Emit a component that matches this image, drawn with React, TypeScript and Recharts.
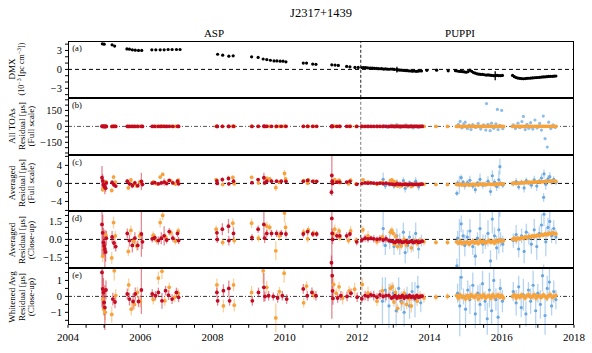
import React from "react";
import { ScatterChart, Scatter, XAxis, YAxis, ErrorBar, ReferenceLine } from "recharts";

// [year, value, error]
type Pt = [number, number, number];

const dmx: Pt[] = [
  [2004.95, 4.05, 0.08], [2005.0, 4.0, 0.08], [2005.22, 3.9, 0.06], [2005.29, 3.7, 0.06],
  [2005.63, 3.25, 0.05], [2005.7, 3.2, 0.05], [2005.78, 3.1, 0.05], [2005.86, 3.05, 0.05], [2005.95, 3.0, 0.05], [2006.04, 3.0, 0.05],
  [2006.32, 3.1, 0.05], [2006.43, 3.1, 0.05], [2006.55, 3.1, 0.05], [2006.66, 3.1, 0.05], [2006.77, 3.15, 0.05], [2006.88, 3.15, 0.05], [2007.0, 3.15, 0.05], [2007.1, 3.15, 0.05],
  [2008.14, 2.4, 0.05], [2008.28, 2.25, 0.05], [2008.45, 2.1, 0.05], [2008.57, 2.15, 0.05],
  [2009.08, 2.0, 0.05], [2009.26, 1.9, 0.05], [2009.4, 1.65, 0.05], [2009.5, 1.55, 0.05], [2009.6, 1.45, 0.05], [2009.7, 1.35, 0.05], [2009.78, 1.35, 0.05], [2009.87, 1.3, 0.05], [2009.95, 1.3, 0.05], [2010.03, 1.2, 0.05],
  [2010.51, 1.0, 0.05], [2010.6, 1.0, 0.05], [2010.77, 0.85, 0.05], [2010.86, 0.8, 0.05],
  [2011.3, 0.73, 0.05], [2011.39, 0.68, 0.05], [2011.48, 0.63, 0.05], [2011.71, 0.47, 0.05], [2011.8, 0.41, 0.05], [2011.94, 0.32, 0.05], [2012.03, 0.32, 0.05],
  [2012.13, 0.3, 0.05], [2012.18, 0.3, 0.05], [2012.23, 0.28, 0.05], [2012.28, 0.25, 0.05], [2012.33, 0.22, 0.05], [2012.38, 0.2, 0.05], [2012.43, 0.2, 0.05], [2012.48, 0.15, 0.05],
  [2012.53, 0.16, 0.05], [2012.58, 0.12, 0.05], [2012.63, 0.1, 0.05], [2012.68, 0.12, 0.05], [2012.73, 0.05, 0.05], [2012.78, 0.08, 0.05], [2012.83, 0.05, 0.05], [2012.88, 0.02, 0.05],
  [2012.93, 0.06, 0.05], [2012.98, 0.05, 0.05], [2013.03, 0.0, 0.05], [2013.1, -0.05, 0.45], [2013.13, -0.08, 0.05], [2013.18, -0.1, 0.05], [2013.23, -0.12, 0.05], [2013.28, -0.15, 0.05],
  [2013.33, -0.18, 0.05], [2013.38, -0.2, 0.05], [2013.43, -0.22, 0.05], [2013.48, -0.25, 0.05], [2013.53, -0.28, 0.05], [2013.58, -0.25, 0.05], [2013.63, -0.3, 0.05], [2013.68, -0.28, 0.05],
  [2013.73, -0.22, 0.05], [2013.78, -0.25, 0.05], [2013.93, -0.15, 0.05], [2014.2, -0.12, 0.05], [2014.52, -0.22, 0.05],
  [2014.72, -0.2, 0.05], [2014.77, -0.25, 0.05], [2014.82, -0.3, 0.05], [2014.87, -0.32, 0.05], [2014.92, -0.35, 0.05], [2014.97, -0.4, 0.05], [2015.02, -0.45, 0.05], [2015.07, -0.35, 0.05],
  [2015.12, -0.12, 0.05], [2015.17, -0.3, 0.05], [2015.22, -0.5, 0.05], [2015.27, -0.6, 0.05], [2015.32, -0.7, 0.05], [2015.37, -0.75, 0.05], [2015.42, -0.78, 0.05], [2015.47, -0.8, 0.05],
  [2015.52, -0.85, 0.05], [2015.57, -0.9, 0.05], [2015.62, -0.88, 0.05], [2015.67, -0.92, 0.05], [2015.72, -0.95, 0.05], [2015.77, -0.98, 0.05], [2015.82, -1.0, 0.7], [2015.87, -0.95, 0.05],
  [2015.92, -0.98, 0.05], [2015.97, -1.0, 0.05], [2016.02, -0.95, 0.05],
  [2016.3, -0.95, 0.05], [2016.35, -1.15, 0.05], [2016.4, -1.3, 0.05], [2016.45, -1.38, 0.05], [2016.5, -1.42, 0.05], [2016.55, -1.45, 0.05], [2016.6, -1.48, 0.05], [2016.65, -1.45, 0.05],
  [2016.7, -1.42, 0.05], [2016.75, -1.4, 0.05], [2016.8, -1.38, 0.05], [2016.85, -1.35, 0.05], [2016.9, -1.32, 0.05], [2016.95, -1.3, 0.05], [2017.0, -1.28, 0.05], [2017.05, -1.25, 0.05],
  [2017.1, -1.22, 0.05], [2017.15, -1.2, 0.05], [2017.2, -1.18, 0.05], [2017.25, -1.15, 0.05], [2017.3, -1.12, 0.05], [2017.35, -1.1, 0.05], [2017.4, -1.1, 0.05], [2017.45, -1.08, 0.05], [2017.5, -1.05, 0.05],
];

// averaged residuals (us), used for full-scale and close-up panels
const redAvg: Pt[] = [
  [2004.94, 1.25, 2.6], [2004.96, 0.55, 1.5], [2004.98, -0.25, 1.2], [2005.0, -0.55, 0.9], [2005.02, -0.8, 1.6], [2005.04, -1.05, 0.8], [2005.06, 0.1, 0.6],
  [2005.22, 0.2, 0.5], [2005.27, -0.3, 0.5], [2005.32, -0.6, 0.4],
  [2005.64, 0.5, 0.4], [2005.7, -0.1, 0.5], [2005.78, -0.5, 0.6], [2005.85, 0.1, 0.5], [2005.93, -0.5, 0.4], [2006.03, 0.45, 1.9], [2006.06, -0.2, 0.6],
  [2006.33, 0.05, 0.3], [2006.4, 0.15, 0.3], [2006.5, -0.1, 0.35], [2006.58, 0.1, 0.5], [2006.66, 0.3, 0.8], [2006.73, -0.05, 0.3], [2006.8, 0.65, 0.3], [2006.9, 0.1, 0.3], [2007.03, 0.5, 0.3], [2007.06, -0.1, 0.3],
  [2008.12, 0.55, 0.35], [2008.13, 0.0, 0.3], [2008.27, 0.85, 0.5], [2008.44, 1.1, 0.6], [2008.45, -0.1, 0.4], [2008.58, 0.5, 0.5],
  [2009.09, 0.15, 0.3], [2009.26, 0.85, 0.3], [2009.42, 1.25, 1.1], [2009.44, 0.1, 0.4], [2009.5, 0.5, 0.3], [2009.63, 0.5, 0.3], [2009.77, 0.5, 0.3], [2009.9, 0.5, 0.3], [2010.03, 0.45, 0.3],
  [2010.51, 0.45, 0.3], [2010.63, 0.65, 0.3], [2010.77, 0.45, 0.25], [2010.88, 0.45, 0.25],
  [2011.3, 1.75, 4.5], [2011.31, 0.5, 0.4], [2011.32, 0.0, 0.4], [2011.29, -1.95, 0.6], [2011.44, 0.3, 0.3], [2011.52, 0.3, 0.3], [2011.71, 0.3, 0.3], [2011.8, 0.45, 0.3], [2011.99, -0.2, 0.3],
  [2012.13, -0.05, 0.25], [2012.22, 0.1, 0.3], [2012.3, 0.05, 0.3], [2012.38, 0.1, 0.2], [2012.46, 0.05, 0.3], [2012.55, 0.0, 0.25], [2012.63, 0.05, 0.3], [2012.72, -0.05, 0.2],
  [2012.8, 0.05, 0.3], [2012.88, -0.1, 0.2], [2012.95, -0.15, 0.15], [2013.0, -0.2, 0.15], [2013.05, -0.25, 0.15], [2013.1, -0.1, 0.15], [2013.15, -0.2, 0.15], [2013.2, -0.15, 0.15],
  [2013.25, -0.25, 0.15], [2013.3, -0.2, 0.15], [2013.35, -0.15, 0.15], [2013.4, -0.25, 0.15], [2013.45, -0.2, 0.15], [2013.5, -0.15, 0.15], [2013.55, -0.25, 0.15], [2013.6, -0.2, 0.15],
  [2013.65, -0.15, 0.15], [2013.7, -0.25, 0.15], [2013.75, -0.2, 0.15], [2013.8, -0.15, 0.15],
];

const orangeAvg: Pt[] = [
  [2004.96, -1.4, 0.5], [2004.99, -0.7, 0.4], [2005.05, 0.35, 0.4],
  [2005.21, -1.55, 0.5], [2005.26, 1.4, 0.5], [2005.31, 0.3, 0.4],
  [2005.67, -1.0, 0.4], [2005.74, 0.75, 0.4], [2005.82, -0.15, 0.3], [2005.9, -0.55, 0.4], [2005.98, 0.3, 0.4],
  [2006.36, 0.35, 0.3], [2006.45, -0.1, 0.3], [2006.55, 1.4, 0.4], [2006.62, 2.0, 0.4], [2006.7, 0.2, 0.3], [2006.85, 0.55, 0.3], [2006.97, -0.15, 0.3], [2007.05, 0.7, 0.3],
  [2008.1, 0.85, 0.3], [2008.28, -0.25, 0.3], [2008.56, 1.35, 0.4], [2008.6, -0.1, 0.3],
  [2009.08, 1.35, 0.4], [2009.27, 0.1, 0.3], [2009.5, 1.1, 0.4], [2009.58, 1.0, 0.3], [2009.75, -0.95, 0.8], [2009.85, 0.3, 0.4], [2009.99, 2.2, 0.8], [2010.02, 1.0, 0.4],
  [2010.52, 0.6, 0.3], [2010.63, 0.05, 0.3], [2010.65, 0.8, 0.3], [2010.8, 0.5, 0.3],
  [2011.35, 0.45, 0.4], [2011.38, 0.85, 0.4], [2011.5, 0.7, 0.3], [2011.52, 0.15, 0.3], [2011.76, -0.1, 0.3], [2011.82, 0.7, 0.4], [2011.97, -0.1, 0.3], [2012.16, 0.8, 0.3],
  [2012.3, 0.3, 0.4], [2012.55, -0.2, 0.3], [2012.7, 0.2, 0.3], [2012.92, 0.6, 0.3], [2012.96, 0.75, 0.3], [2013.0, 0.5, 0.25], [2013.03, -0.4, 0.3], [2013.07, 0.25, 0.3],
  [2013.12, -0.6, 0.3], [2013.17, -0.2, 0.3], [2013.22, -0.55, 0.3], [2013.3, 0.0, 0.3], [2013.36, -0.45, 0.3], [2013.42, -0.2, 0.25], [2013.5, -0.7, 0.4], [2013.58, -0.15, 0.3],
  [2013.66, -0.35, 0.3], [2013.74, -0.1, 0.3], [2013.85, -0.2, 0.3], [2014.18, -0.25, 0.2], [2014.5, -0.25, 0.2],
  [2014.75, -0.2, 0.2], [2014.8, -0.3, 0.2], [2014.85, -0.15, 0.2], [2014.9, -0.35, 0.2], [2014.95, -0.25, 0.2], [2015.0, -0.3, 0.2], [2015.05, -0.2, 0.2], [2015.1, -0.4, 0.25],
  [2015.15, -0.25, 0.2], [2015.2, -0.15, 0.2], [2015.25, -0.3, 0.2], [2015.3, -0.2, 0.2], [2015.35, -0.35, 0.2], [2015.4, -0.1, 0.2], [2015.45, -0.25, 0.2], [2015.5, -0.15, 0.2],
  [2015.55, -0.3, 0.2], [2015.6, -0.2, 0.2], [2015.65, -0.1, 0.2], [2015.7, -0.25, 0.2], [2015.75, -0.15, 0.2], [2015.8, -0.3, 0.25], [2015.85, -0.1, 0.2], [2015.9, -0.2, 0.2],
  [2015.95, -0.05, 0.2], [2016.0, -0.15, 0.2], [2016.05, -0.1, 0.2],
  [2016.3, 0.0, 0.2], [2016.35, 0.1, 0.2], [2016.4, -0.05, 0.2], [2016.45, 0.1, 0.2], [2016.5, 0.05, 0.2], [2016.55, 0.15, 0.2], [2016.6, 0.1, 0.2], [2016.65, 0.2, 0.2],
  [2016.7, 0.15, 0.2], [2016.75, 0.25, 0.2], [2016.8, 0.2, 0.2], [2016.85, 0.3, 0.2], [2016.9, 0.25, 0.2], [2016.95, 0.3, 0.2], [2017.0, 0.35, 0.2], [2017.05, 0.3, 0.2],
  [2017.1, 0.4, 0.2], [2017.15, 0.35, 0.2], [2017.2, 0.45, 0.2], [2017.25, 0.4, 0.2], [2017.3, 0.5, 0.2], [2017.35, 0.45, 0.2], [2017.4, 0.55, 0.2], [2017.45, 0.5, 0.2], [2017.5, 0.45, 0.2],
];

const blueAvg: Pt[] = [
  [2012.72, 0.9, 1.5], [2012.78, -0.5, 0.8], [2012.9, -0.2, 0.6], [2013.02, -0.6, 0.7], [2013.1, 0.3, 0.6], [2013.18, -0.4, 0.9], [2013.28, 0.6, 0.8],
  [2013.33, -1.1, 0.9], [2013.4, -0.5, 0.6], [2013.45, 0.2, 0.5], [2013.55, -0.3, 0.7], [2013.62, 0.5, 0.9], [2013.7, -0.8, 0.8], [2013.78, -0.1, 0.5],
  [2014.76, -2.2, 0.6], [2014.78, 0.1, 0.6], [2014.83, -0.3, 2.0], [2014.88, 1.3, 0.7], [2014.93, 0.3, 0.5], [2014.98, -0.5, 0.9], [2015.05, 0.2, 0.6], [2015.12, 0.7, 1.0],
  [2015.2, -0.6, 0.7], [2015.27, -1.4, 0.8], [2015.33, 0.1, 0.5], [2015.4, 0.9, 1.3], [2015.48, -0.4, 0.8], [2015.55, -0.2, 0.6], [2015.62, 0.5, 1.1], [2015.69, -1.8, 0.9],
  [2015.74, 1.7, 1.2], [2015.8, 0.3, 0.7], [2015.86, -0.7, 1.0], [2015.92, 0.8, 2.0], [2015.95, 3.7, 1.8], [2015.97, 0.0, 0.6], [2016.03, -0.4, 0.7],
  [2016.32, -0.1, 0.6], [2016.4, 0.4, 0.8], [2016.47, -0.8, 0.7], [2016.55, 0.3, 0.6], [2016.62, -1.0, 1.0], [2016.68, 0.6, 0.7], [2016.75, 0.1, 0.5], [2016.82, -0.4, 0.8],
  [2016.9, 0.8, 0.9], [2016.97, -0.6, 1.1], [2017.04, 0.5, 0.6], [2017.1, 1.2, 0.9], [2017.16, -3.1, 1.0], [2017.17, 2.1, 1.0], [2017.22, -0.2, 1.2], [2017.28, 1.0, 0.8],
  [2017.33, 1.5, 1.0], [2017.38, 0.3, 0.6], [2017.44, 0.9, 0.7], [2017.5, 0.2, 0.6],
];

// individual TOA residuals (us) for the 1.4 GHz PUPPI data
const blueToa: Pt[] = [
  [2012.75, 8, 4], [2012.85, -10, 4], [2012.95, 12, 4], [2013.05, -5, 4], [2013.1, 18, 4], [2013.2, -12, 4], [2013.3, 6, 4], [2013.35, 15, 4], [2013.42, -8, 4],
  [2013.5, 10, 4], [2013.55, -15, 4], [2013.62, 5, 4], [2013.7, -10, 4], [2013.8, 8, 4],
  [2014.8, 20, 4], [2014.85, 47, 4], [2014.9, -15, 4], [2014.95, 25, 4], [2014.99, 40, 4], [2015.05, -20, 4], [2015.1, 12, 4], [2015.15, -30, 4], [2015.2, 18, 4],
  [2015.28, -10, 4], [2015.35, 28, 4], [2015.42, -25, 4], [2015.5, 15, 4], [2015.56, -35, 4], [2015.58, 215, 4], [2015.62, 20, 4], [2015.68, -40, 4], [2015.72, 30, 4],
  [2015.78, -18, 4], [2015.84, 25, 4], [2015.88, 160, 4], [2015.9, -30, 4], [2015.95, 10, 4], [2016.0, 150, 4], [2016.03, -22, 4],
  [2016.32, 15, 4], [2016.38, -20, 4], [2016.45, 30, 4], [2016.5, -12, 4], [2016.56, 45, 4], [2016.6, 94, 4], [2016.65, -30, 4], [2016.7, 20, 4], [2016.75, -18, 4],
  [2016.8, 35, 4], [2016.86, -25, 4], [2016.92, 60, 4], [2016.98, -15, 4], [2017.05, 28, 4], [2017.1, -35, 4], [2017.15, 97, 4], [2017.2, -115, 4], [2017.26, -194, 4],
  [2017.3, 40, 4], [2017.36, -20, 4], [2017.42, 15, 4], [2017.48, -10, 4],
];

// whitened averaged residuals (us)
const redWhite: Pt[] = [
  [2004.94, 1.5, 2.2], [2004.96, 0.47, 1.2], [2004.98, 0.25, 0.9], [2005.0, -0.38, 0.8], [2005.02, -0.7, 1.4], [2005.05, 0.4, 0.6],
  [2005.24, -0.17, 0.4], [2005.3, -0.35, 0.4],
  [2005.64, 0.15, 0.35], [2005.7, -0.17, 0.4], [2005.8, -0.32, 0.5], [2005.86, 0.15, 0.4], [2005.95, -0.32, 0.35], [2006.03, 0.4, 1.5],
  [2006.33, 0.15, 0.3], [2006.42, 0.04, 0.3], [2006.5, 0.25, 0.3], [2006.6, -0.28, 0.5], [2006.7, 0.36, 0.3], [2006.78, 0.08, 0.3], [2006.88, -0.17, 0.3], [2007.0, 0.25, 0.3], [2007.06, -0.06, 0.3],
  [2008.12, 0.25, 0.3], [2008.14, -0.28, 0.3], [2008.3, 0.36, 0.4], [2008.45, 0.5, 0.5], [2008.47, -0.28, 0.3],
  [2009.1, -0.28, 0.3], [2009.27, 0.25, 0.3], [2009.42, 0.57, 0.9], [2009.45, 0.0, 0.3], [2009.55, 0.04, 0.3], [2009.68, 0.0, 0.25], [2009.8, -0.1, 0.3], [2009.93, 0.04, 0.3], [2010.05, -0.17, 0.3],
  [2010.51, 0.47, 0.3], [2010.62, 0.04, 0.3], [2010.75, 0.25, 0.3], [2010.86, 0.04, 0.3],
  [2011.3, 2.1, 3.5], [2011.31, 1.3, 0.5], [2011.32, 0.35, 0.4], [2011.33, -0.13, 0.4], [2011.46, -0.1, 0.3], [2011.55, 0.04, 0.3], [2011.72, 0.0, 0.3], [2011.83, 0.2, 0.3], [2012.0, -0.05, 0.3],
  [2012.13, -0.15, 0.25], [2012.22, 0.05, 0.3], [2012.3, 0.0, 0.3], [2012.38, 0.1, 0.2], [2012.46, 0.05, 0.3], [2012.55, -0.05, 0.25], [2012.63, 0.1, 0.3], [2012.72, 0.0, 0.2],
  [2012.8, 0.05, 0.3], [2012.88, 0.05, 0.2], [2012.95, -0.1, 0.15], [2013.0, -0.05, 0.15], [2013.05, 0.05, 0.15], [2013.1, -0.1, 0.15], [2013.15, 0.0, 0.15], [2013.2, -0.05, 0.15],
  [2013.25, 0.05, 0.15], [2013.3, -0.1, 0.15], [2013.35, 0.0, 0.15], [2013.4, -0.05, 0.15], [2013.45, 0.05, 0.15], [2013.5, -0.05, 0.15], [2013.55, 0.0, 0.15], [2013.6, -0.1, 0.15],
  [2013.65, 0.05, 0.15], [2013.7, -0.05, 0.15], [2013.75, 0.0, 0.15], [2013.8, 0.02, 0.15],
];

const orangeWhite: Pt[] = [
  [2004.96, -0.17, 0.4], [2004.99, -0.8, 0.4], [2005.03, -1.0, 0.5],
  [2005.21, -1.13, 0.5], [2005.28, 1.6, 0.6], [2005.32, 0.05, 0.4],
  [2005.68, 0.72, 0.4], [2005.75, -0.8, 0.4], [2005.84, -0.5, 0.3], [2005.92, 0.25, 0.35], [2006.0, -0.3, 0.4],
  [2006.36, -0.2, 0.3], [2006.5, 1.15, 0.4], [2006.6, 1.57, 0.5], [2006.68, -0.28, 0.3], [2006.8, 0.57, 0.3], [2006.95, -0.06, 0.3], [2007.05, 0.2, 0.3],
  [2008.12, 0.72, 0.4], [2008.3, -0.6, 0.4], [2008.58, 0.72, 0.4], [2008.6, -0.55, 0.4],
  [2009.08, 0.25, 0.4], [2009.4, 1.6, 0.8], [2009.5, 0.57, 0.4], [2009.75, -1.35, 0.9], [2009.85, 0.3, 0.3], [2009.98, 1.45, 0.6],
  [2010.52, -0.4, 0.3], [2010.6, 0.65, 0.3], [2010.8, 0.1, 0.3],
  [2011.35, 0.75, 0.4], [2011.42, 0.2, 0.3], [2011.5, 0.6, 0.3], [2011.6, -0.1, 0.4], [2011.78, 0.35, 0.3], [2011.93, 0.45, 0.4], [2012.14, 0.75, 0.4],
  [2012.3, 0.2, 0.4], [2012.55, -0.3, 0.3], [2012.7, 0.35, 0.3], [2012.92, 0.5, 0.3], [2012.97, 0.6, 0.3], [2013.02, -0.35, 0.3], [2013.06, 0.25, 0.3], [2013.12, -0.75, 0.3],
  [2013.18, -0.1, 0.3], [2013.24, -0.4, 0.3], [2013.3, 0.2, 0.3], [2013.37, -0.5, 0.3], [2013.44, -0.15, 0.3], [2013.5, -0.6, 0.4], [2013.58, -0.05, 0.3], [2013.66, -0.3, 0.3],
  [2013.74, 0.05, 0.3], [2013.85, -0.1, 0.3], [2014.18, -0.05, 0.2], [2014.5, 0.0, 0.2],
  [2014.75, 0.05, 0.2], [2014.8, -0.1, 0.2], [2014.85, 0.1, 0.2], [2014.9, -0.05, 0.2], [2014.95, 0.0, 0.2], [2015.0, -0.15, 0.2], [2015.05, 0.05, 0.2], [2015.1, -0.1, 0.25],
  [2015.15, 0.1, 0.2], [2015.2, 0.0, 0.2], [2015.25, -0.05, 0.2], [2015.3, 0.1, 0.2], [2015.35, -0.15, 0.2], [2015.4, 0.05, 0.2], [2015.45, -0.05, 0.2], [2015.5, 0.1, 0.2],
  [2015.55, -0.1, 0.2], [2015.6, 0.0, 0.2], [2015.65, 0.05, 0.2], [2015.7, -0.1, 0.2], [2015.75, 0.1, 0.2], [2015.8, -0.05, 0.25], [2015.85, 0.0, 0.2], [2015.9, 0.1, 0.2],
  [2015.95, -0.05, 0.2], [2016.0, 0.05, 0.2], [2016.05, -0.1, 0.2],
  [2016.3, 0.0, 0.2], [2016.35, 0.1, 0.2], [2016.4, -0.1, 0.2], [2016.45, 0.05, 0.2], [2016.5, -0.05, 0.2], [2016.55, 0.1, 0.2], [2016.6, 0.0, 0.2], [2016.65, -0.1, 0.2],
  [2016.7, 0.05, 0.2], [2016.75, 0.1, 0.2], [2016.8, -0.05, 0.2], [2016.85, 0.0, 0.2], [2016.9, 0.1, 0.2], [2016.95, -0.1, 0.2], [2017.0, 0.05, 0.2], [2017.05, 0.0, 0.2],
  [2017.1, -0.05, 0.2], [2017.15, 0.1, 0.2], [2017.2, 0.0, 0.2], [2017.25, -0.1, 0.2], [2017.3, 0.05, 0.2], [2017.35, 0.1, 0.2], [2017.4, -0.05, 0.2], [2017.45, 0.0, 0.2], [2017.5, 0.05, 0.2],
];

const blueWhite: Pt[] = [
  [2012.7, -0.3, 1.5], [2012.78, 0.4, 0.8], [2012.88, -0.6, 1.4], [2013.0, 0.2, 0.6], [2013.08, -0.9, 1.0], [2013.15, 0.5, 0.7], [2013.22, -0.3, 0.6],
  [2013.3, -1.0, 0.9], [2013.38, 0.1, 0.5], [2013.45, -0.6, 0.8], [2013.52, 0.3, 0.6], [2013.6, -0.2, 1.1], [2013.68, 0.6, 0.7], [2013.76, -0.4, 0.6],
  [2014.78, 0.2, 0.6], [2014.84, -0.6, 1.9], [2014.88, 1.2, 0.8], [2014.94, 0.0, 0.5], [2015.0, -0.8, 1.0], [2015.06, 0.4, 0.6], [2015.12, -0.2, 0.9], [2015.2, 0.7, 0.8],
  [2015.27, -1.1, 0.9], [2015.34, 0.2, 0.5], [2015.4, -0.5, 1.3], [2015.47, 0.8, 0.8], [2015.54, -0.3, 0.6], [2015.6, -1.4, 1.0], [2015.66, 0.4, 1.1], [2015.72, -0.9, 0.9],
  [2015.78, 1.0, 1.2], [2015.84, -0.2, 0.7], [2015.9, -1.3, 1.5], [2015.96, 0.5, 0.6], [2016.02, -0.3, 0.7],
  [2016.32, 0.3, 0.6], [2016.4, -0.4, 0.8], [2016.47, 0.6, 0.7], [2016.54, -0.7, 0.6], [2016.6, 0.1, 1.0], [2016.67, -1.1, 0.8], [2016.74, 0.4, 0.5], [2016.8, -0.3, 0.8],
  [2016.87, 0.7, 0.9], [2016.94, -0.9, 1.1], [2017.0, 0.2, 0.6], [2017.07, -0.5, 0.9], [2017.13, 1.3, 1.0], [2017.2, -1.2, 1.2], [2017.26, 0.5, 0.8], [2017.32, 0.9, 1.0],
  [2017.38, -0.6, 0.6], [2017.44, 0.3, 0.7], [2017.5, -0.2, 0.6],
];

const yearTicks = [2004, 2004.5, 2005, 2005.5, 2006, 2006.5, 2007, 2007.5, 2008, 2008.5, 2009, 2009.5, 2010, 2010.5, 2011, 2011.5, 2012, 2012.5, 2013, 2013.5, 2014, 2014.5, 2015, 2015.5, 2016, 2016.5, 2017, 2017.5, 2018];
const yearLabels = [2004, 2006, 2008, 2010, 2012, 2014, 2016, 2018];

const RED = "#c40a22";
const ORANGE = "#f7a23a";
const BLUE = "#6aa7e0";
const RED_ERR = "rgba(205,40,60,0.55)";
const ORANGE_ERR = "rgba(248,176,90,0.6)";
const BLUE_ERR = "rgba(110,170,230,0.5)";
const FONT = '"Liberation Serif", "DejaVu Serif", serif';

const PLOT_LEFT = 68;
const PLOT_W = 506;
const PANEL_H = 56.8;
const FIRST_TOP = 41;

type Series = { pts: Pt[]; color: string; err: string; r: number };

const rows = (pts: Pt[]) => pts.map(([x, y, e]) => ({ x, y, e }));
const minus = (s: string) => s.replace("-", "\u2212");

function Panel(props: {
  index: number;
  domain: [number, number];
  ticks: number[];
  labels: number[];
  digits: number;
  series: Series[];
  zeroColor: string;
  zeroDash: string;
  splitColor: string;
  showX?: boolean;
}) {
  const { index, domain, ticks, labels, digits, series, showX } = props;
  const top = FIRST_TOP + index * PANEL_H;
  const h = PANEL_H + (showX ? 30 : 0);
  return (
    <div style={{ position: "absolute", left: 0, top, width: 592, height: h }}>
      <ScatterChart width={592} height={h} margin={{ top: 0, right: 18, bottom: 0, left: PLOT_LEFT - 30 }}>
        <XAxis
          type="number"
          dataKey="x"
          domain={[2004, 2018]}
          ticks={yearTicks}
          allowDataOverflow
          hide={!showX}
          height={30}
          axisLine={false}
          tickSize={3}
          tickMargin={5}
          tickLine={{ stroke: "#000" }}
          tick={{ fontSize: 11, fill: "#000", fontFamily: FONT }}
          tickFormatter={(v: number) => (yearLabels.includes(v) ? String(v) : "")}
          interval={0}
        />
        <YAxis
          type="number"
          dataKey="y"
          domain={domain}
          ticks={ticks}
          allowDataOverflow
          width={30}
          axisLine={false}
          tickSize={3}
          tickMargin={3}
          tickLine={{ stroke: "#000" }}
          tick={{ fontSize: 10.5, fill: "#000", fontFamily: FONT }}
          tickFormatter={(v: number) => (labels.includes(v) ? minus(v.toFixed(digits)) : "")}
          interval={0}
        />
        <ReferenceLine y={0} stroke={props.zeroColor} strokeDasharray={props.zeroDash} strokeWidth={1} />
        <ReferenceLine x={2012.1} stroke={props.splitColor} strokeDasharray="3 2" strokeWidth={1} />
        {series.map((s, i) => (
          <Scatter
            key={i}
            data={rows(s.pts)}
            fill={s.color}
            isAnimationActive={false}
            shape={(p: any) => <circle cx={p.cx} cy={p.cy} r={s.r} fill={s.color} />}
          >
            <ErrorBar dataKey="e" direction="y" width={0} stroke={s.err} strokeWidth={1.3} isAnimationActive={false} />
          </Scatter>
        ))}
      </ScatterChart>
    </div>
  );
}

function Txt(props: { x: number; y: number; size: number; rot?: boolean; children: React.ReactNode }) {
  return (
    <div
      style={{
        position: "absolute",
        left: props.x,
        top: props.y,
        transform: `translate(-50%, -50%)${props.rot ? " rotate(-90deg)" : ""}`,
        fontSize: props.size,
        whiteSpace: "nowrap",
        lineHeight: 1,
      }}
    >
      {props.children}
    </div>
  );
}

const mid = (i: number) => FIRST_TOP + i * PANEL_H + PANEL_H / 2;
const supStyle = { fontSize: 6, verticalAlign: "3px", lineHeight: 0 } as const;

export default function App() {
  const residualSeries = (red: Pt[], orange: Pt[], blue: Pt[]): Series[] => [
    { pts: blue, color: BLUE, err: BLUE_ERR, r: 1.6 },
    { pts: orange, color: ORANGE, err: ORANGE_ERR, r: 1.9 },
    { pts: red, color: RED, err: RED_ERR, r: 1.9 },
  ];
  return (
    <div style={{ position: "absolute", left: 0, top: 0, width: 592, height: 353, background: "#fff", fontFamily: FONT, color: "#000" }}>
      <Txt x={321} y={13} size={12.5}>J2317+1439</Txt>
      <Txt x={214} y={33} size={11}>ASP</Txt>
      <Txt x={460} y={33} size={11}>PUPPI</Txt>

      <Panel index={0} domain={[-4.5, 4.5]} ticks={[-4, -3, -2, -1, 0, 1, 2, 3, 4]} labels={[-3, 0, 3]} digits={0}
        series={[{ pts: dmx, color: "#000", err: "#000", r: 1.6 }]} zeroColor="#000" zeroDash="4 3" splitColor="#222" />
      <Panel index={1} domain={[-267, 267]} ticks={[-250, -200, -150, -100, -50, 0, 50, 100, 150, 200, 250]} labels={[-150, 0, 150]} digits={0}
        series={[
          { pts: blueToa, color: "#8fbde9", err: "rgba(140,185,235,0.4)", r: 1.6 },
          { pts: orangeAvg, color: ORANGE, err: ORANGE_ERR, r: 1.9 },
          { pts: redAvg, color: RED, err: RED_ERR, r: 1.9 },
        ]}
        zeroColor="#555" zeroDash="4 2 1 2" splitColor="#777" />
      <Panel index={2} domain={[-6.3, 6.3]} ticks={[-6, -4, -2, 0, 2, 4, 6]} labels={[-4, 0, 4]} digits={0}
        series={residualSeries(redAvg, orangeAvg, blueAvg)} zeroColor="#000" zeroDash="4 3" splitColor="#888" />
      <Panel index={3} domain={[-2.37, 2.37]} ticks={[-2, -1.5, -1, -0.5, 0, 0.5, 1, 1.5, 2]} labels={[-1.5, 0, 1.5]} digits={1}
        series={residualSeries(redAvg, orangeAvg, blueAvg)} zeroColor="#000" zeroDash="4 3" splitColor="#222" />
      <Panel index={4} domain={[-1.78, 1.78]} ticks={[-1.5, -1, -0.5, 0, 0.5, 1, 1.5]} labels={[-1, 0, 1]} digits={0}
        series={residualSeries(redWhite, orangeWhite, blueWhite)} zeroColor="#333" zeroDash="4 2 1 2" splitColor="#222" showX />

      {[0, 1, 2, 3, 4].map((i) => (
        <div key={i} style={{ position: "absolute", left: PLOT_LEFT, top: FIRST_TOP + i * PANEL_H, width: PLOT_W, height: PANEL_H, border: "1px solid #000", boxSizing: "border-box", pointerEvents: "none" }} />
      ))}

      {["(a)", "(b)", "(c)", "(d)", "(e)"].map((t, i) => (
        <Txt key={t} x={77} y={FIRST_TOP + i * PANEL_H + 7} size={8.5}>{t}</Txt>
      ))}

      <Txt x={12} y={mid(0)} size={9} rot>DMX</Txt>
      <Txt x={22} y={mid(0)} size={8} rot>(10<sup style={supStyle}>{"\u22123"}</sup> [pc cm<sup style={supStyle}>{"\u22123"}</sup>])</Txt>

      <Txt x={12} y={mid(1)} size={9} rot>All TOAs</Txt>
      <Txt x={21.5} y={mid(1)} size={9} rot>Residual [μs]</Txt>
      <Txt x={31} y={mid(1)} size={9} rot>(Full scale)</Txt>

      <Txt x={12} y={mid(2)} size={9} rot>Averaged</Txt>
      <Txt x={21.5} y={mid(2)} size={9} rot>Residual [μs]</Txt>
      <Txt x={31} y={mid(2)} size={9} rot>(Full scale)</Txt>

      <Txt x={12} y={mid(3)} size={9} rot>Averaged</Txt>
      <Txt x={21.5} y={mid(3)} size={9} rot>Residual [μs]</Txt>
      <Txt x={31} y={mid(3)} size={9} rot>(Close-up)</Txt>

      <Txt x={12} y={mid(4)} size={9} rot>Whitened Avg</Txt>
      <Txt x={21.5} y={mid(4)} size={9} rot>Residual [μs]</Txt>
      <Txt x={31} y={mid(4)} size={9} rot>(Close-up)</Txt>
    </div>
  );
}
